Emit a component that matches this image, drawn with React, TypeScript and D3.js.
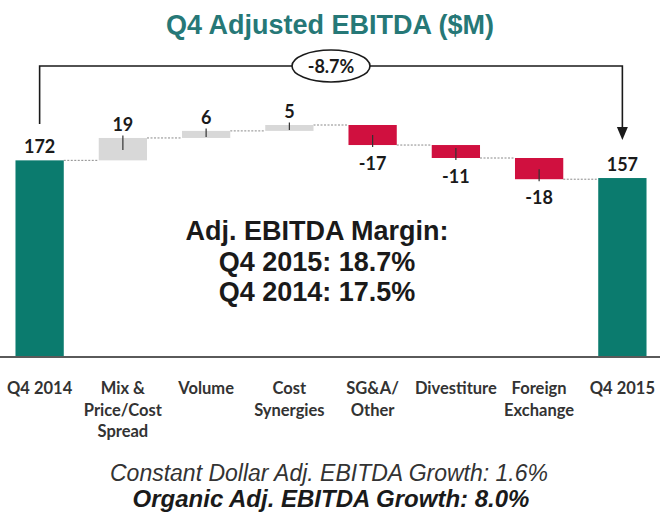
import React from "react";
import * as d3 from "d3";

const categories = ["Q4 2014", "Mix & Price/Cost Spread", "Volume", "Cost Synergies", "SG&A/ Other", "Divestiture", "Foreign Exchange", "Q4 2015"];
const categoryLines = [["Q4 2014"], ["Mix &", "Price/Cost", "Spread"], ["Volume"], ["Cost", "Synergies"], ["SG&A/", "Other"], ["Divestiture"], ["Foreign", "Exchange"], ["Q4 2015"]];
const values = [172, 19, 6, 5, -17, -11, -18, 157];
const kinds = ["total", "delta", "delta", "delta", "delta", "delta", "delta", "total"];
const changeLabel = "-8.7%";
const title = "Q4 Adjusted EBITDA ($M)";
const marginLines = ["Adj. EBITDA Margin:", "Q4 2015: 18.7%", "Q4 2014: 17.5%"];
const footLine1 = "Constant Dollar Adj. EBITDA Growth: 1.6%";
const footLine2 = "Organic Adj. EBITDA Growth: 8.0%";

const W = 660;
const H = 516;
const TEAL = "#0b7b6e";
const RED = "#d0103f";
const GRAY = "#d8d8d8";

export default function App() {
  const x = d3.scaleBand<string>().domain(categories).range([-2, 664]).paddingInner(0.42).paddingOuter(0.21);
  const y = d3.scaleLinear().domain([6, 202]).range([356, 125]);

  let running = 0;
  const bars = values.map((v, i) => {
    let start: number, end: number;
    if (kinds[i] === "total") {
      start = 0;
      end = v;
      running = v;
    } else {
      start = running;
      end = running + v;
      running = end;
    }
    return { cat: categories[i], v, start, end, kind: kinds[i] };
  });

  const bw = x.bandwidth();
  const yPix = (v: number) => (v <= 0 ? y.range()[0] : y(v));

  const cx0 = x(categories[0])! + bw / 2;
  const cxN = x(categories[categories.length - 1])! + bw / 2;
  const bracketY = 66;
  const midX = (cx0 + cxN) / 2;

  const valueFont = "Lato, 'Open Sans', sans-serif";
  const arial = "'Liberation Sans', Arial, sans-serif";

  return (
    <svg width={W} height={H} style={{ position: "absolute", left: 0, top: 0, background: "#fff" }} xmlns="http://www.w3.org/2000/svg">
      <rect x={0} y={0} width={W} height={H} fill="#fff" />
      <text x={W / 2} y={34} textAnchor="middle" fontFamily={arial} fontWeight="bold" fontSize={27} fill="#267877">
        {title}
      </text>

      {bars.slice(0, -1).map((b, i) => {
        const level = b.end;
        const x1 = x(b.cat)! + bw;
        const x2 = x(bars[i + 1].cat)!;
        return <line key={"c" + i} x1={x1} x2={x2} y1={y(level)} y2={y(level)} stroke="#8a8a8a" strokeWidth={1} strokeDasharray="2,1.5" />;
      })}

      {bars.map((b, i) => {
        const top = Math.min(yPix(b.start), yPix(b.end));
        const bottom = Math.max(yPix(b.start), yPix(b.end));
        const fill = b.kind === "total" ? TEAL : b.v >= 0 ? GRAY : RED;
        return <rect key={"b" + i} x={x(b.cat)!} y={top} width={bw} height={bottom - top} fill={fill} />;
      })}

      {bars.map((b, i) => {
        if (b.kind === "total") return null;
        const cx = x(b.cat)! + bw / 2;
        const top = Math.min(yPix(b.start), yPix(b.end));
        const bottom = Math.max(yPix(b.start), yPix(b.end));
        const h = bottom - top;
        if (b.v >= 0) {
          return <line key={"t" + i} x1={cx} x2={cx} y1={top - 2.5} y2={top + Math.min(12, h - 1)} stroke="#333" strokeWidth={1.2} />;
        }
        return <line key={"t" + i} x1={cx} x2={cx} y1={bottom + 2} y2={bottom - Math.min(10, h - 1)} stroke="#333" strokeWidth={1.2} />;
      })}

      {bars.map((b, i) => {
        const cx = x(b.cat)! + bw / 2;
        const top = Math.min(yPix(b.start), yPix(b.end));
        const bottom = Math.max(yPix(b.start), yPix(b.end));
        const ly = b.v >= 0 ? top - 7 : bottom + 25;
        return (
          <text key={"v" + i} x={cx} y={ly} textAnchor="middle" fontFamily={valueFont} fontWeight="bold" fontSize={18} fill="#1a1a1a">
            {String(b.v)}
          </text>
        );
      })}

      <line x1={0} x2={W} y1={357} y2={357} stroke="#5a5a5a" strokeWidth={2} />

      {categories.map((c, i) => {
        const cx = x(c)! + bw / 2;
        return (
          <text key={"k" + i} x={cx} y={394} textAnchor="middle" fontFamily={valueFont} fontWeight="bold" fontSize={16.5} fill="#333">
            {categoryLines[i].map((ln, j) => (
              <tspan key={j} x={cx} dy={j === 0 ? 0 : 21.5}>
                {ln}
              </tspan>
            ))}
          </text>
        );
      })}

      <path d={`M${cx0},124 V${bracketY} H${cxN} V128`} fill="none" stroke="#1a1a1a" strokeWidth={1.6} />
      <path d={`M${cxN - 5.5},127 L${cxN + 5.5},127 L${cxN},140 Z`} fill="#1a1a1a" />
      <ellipse cx={midX} cy={bracketY} rx={39} ry={16} fill="#fff" stroke="#1a1a1a" strokeWidth={1.6} />
      <text x={midX} y={bracketY + 6.5} textAnchor="middle" fontFamily={valueFont} fontWeight="bold" fontSize={18} fill="#1a1a1a">
        {changeLabel}
      </text>

      {marginLines.map((ln, i) => (
        <text key={"m" + i} x={317} y={240 + i * 30.5} textAnchor="middle" fontFamily={arial} fontWeight="bold" fontSize={27} fill="#1a1a1a">
          {ln}
        </text>
      ))}

      <text x={329} y={481} textAnchor="middle" fontFamily={arial} fontStyle="italic" fontSize={23} fill="#333">
        {footLine1}
      </text>
      <text x={331} y={507} textAnchor="middle" fontFamily={arial} fontStyle="italic" fontWeight="bold" fontSize={24} fill="#1a1a1a">
        {footLine2}
      </text>
    </svg>
  );
}
